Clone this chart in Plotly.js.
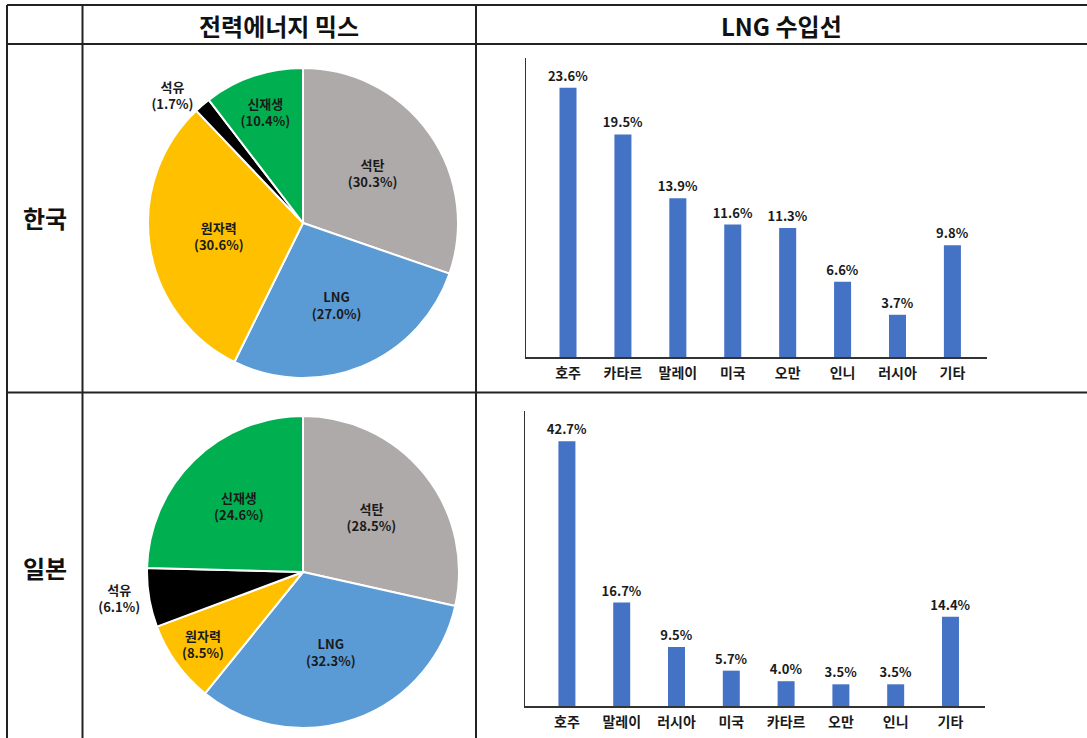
<!DOCTYPE html>
<html>
<head>
<meta charset="utf-8">
<script src="https://cdn.plot.ly/plotly-3.0.1.min.js"></script>
<style>html,body{margin:0;padding:0;background:#fff;}#chart{width:1087px;height:738px;}</style>
</head>
<body>
<div id="chart"></div>
<script>
// ---- data ----
const energyLabels = ["석탄", "LNG", "원자력", "석유", "신재생"];
const koreaMix = [30.3, 27.0, 30.6, 1.7, 10.4];
const japanMix = [28.5, 32.3, 8.5, 6.1, 24.6];
const mixColors = ["#AEAAAA", "#5B9BD5", "#FFC000", "#000000", "#00B050"];

const koreaLngSources = ["호주", "카타르", "말레이", "미국", "오만", "인니", "러시아", "기타"];
const koreaLngShare = [23.6, 19.5, 13.9, 11.6, 11.3, 6.6, 3.7, 9.8];
const japanLngSources = ["호주", "말레이", "러시아", "미국", "카타르", "오만", "인니", "기타"];
const japanLngShare = [42.7, 16.7, 9.5, 5.7, 4.0, 3.5, 3.5, 14.4];

const headerTexts = ["전력에너지 믹스", "LNG 수입선"];
const rowTexts = ["한국", "일본"];

// ---- layout helpers ----
const W = 1087, H = 738;
const px = x => x / W;
const py = y => 1 - y / H;
const FONT = "Noto Sans CJK KR, Noto Sans, sans-serif";

function pieTrace(values, dom, outsideIdx) {
  return {
    type: "pie",
    labels: energyLabels,
    values: values,
    sort: false,
    direction: "clockwise",
    rotation: 0,
    marker: {colors: mixColors, line: {color: "#ffffff", width: 2}},
    texttemplate: "%{label}<br>(%{value:.1f}%)",
    textposition: energyLabels.map((_, i) => i === outsideIdx ? "outside" : "inside"),
    insidetextorientation: "horizontal",
    textfont: {family: FONT, size: 13, color: "#1a1a1a", weight: "bold"},
    hoverinfo: "label+percent",
    showlegend: false,
    domain: dom
  };
}

function barTrace(cats, vals, xa, ya) {
  return {
    type: "bar", x: cats, y: vals, xaxis: xa, yaxis: ya,
    marker: {color: "#4472C4"}, width: 0.31,
    texttemplate: "%{y:.1f}%", textposition: "outside", cliponaxis: false,
    constraintext: "none",
    textfont: {family: FONT, size: 13, color: "#1a1a1a", weight: "bold"},
    showlegend: false
  };
}

const traces = [
  pieTrace(koreaMix, {x: [px(148), px(458)], y: [py(378), py(68)]}, 3),
  pieTrace(japanMix, {x: [px(147), px(459)], y: [py(728), py(416)]}, 3),
  barTrace(koreaLngSources, koreaLngShare, "x", "y"),
  barTrace(japanLngSources, japanLngShare, "x2", "y2")
];

function xAxis(dom, anchor) {
  return {
    domain: dom, anchor: anchor, range: [-0.765, 7.63], fixedrange: true,
    showline: true, linecolor: "#333", linewidth: 1.5, ticks: "", showgrid: false, zeroline: false,
    tickfont: {family: FONT, size: 14, color: "#1a1a1a", weight: "bold"}, ticklabelstandoff: 3
  };
}
function yAxis(dom, anchor, top) {
  return {
    domain: dom, anchor: anchor, range: [0, top], fixedrange: true,
    showline: true, linecolor: "#333", linewidth: 1.5, ticks: "", showgrid: false, zeroline: false,
    showticklabels: false
  };
}

const lineStyle = {color: "#222", width: 2};
const shapes = [
  {type: "line", xref: "paper", yref: "paper", x0: px(7), x1: 1, y0: py(5), y1: py(5), line: lineStyle},
  {type: "line", xref: "paper", yref: "paper", x0: px(7), x1: 1, y0: py(44), y1: py(44), line: lineStyle},
  {type: "line", xref: "paper", yref: "paper", x0: px(7), x1: 1, y0: py(392.5), y1: py(392.5), line: lineStyle},
  {type: "line", xref: "paper", yref: "paper", x0: px(7), x1: px(7), y0: py(5), y1: 0, line: lineStyle},
  {type: "line", xref: "paper", yref: "paper", x0: px(82.5), x1: px(82.5), y0: py(5), y1: 0, line: lineStyle},
  {type: "line", xref: "paper", yref: "paper", x0: px(476), x1: px(476), y0: py(5), y1: 0, line: lineStyle}
];

const hdrFont = {family: FONT, size: 24, color: "#111", weight: "bold"};
const annotations = [
  {text: headerTexts[0], x: px(279), y: py(25), xref: "paper", yref: "paper", showarrow: false, font: hdrFont, xanchor: "center", yanchor: "middle"},
  {text: headerTexts[1], x: px(781), y: py(25), xref: "paper", yref: "paper", showarrow: false, font: hdrFont, xanchor: "center", yanchor: "middle"},
  {text: rowTexts[0], x: px(45), y: py(218), xref: "paper", yref: "paper", showarrow: false, font: hdrFont, xanchor: "center", yanchor: "middle"},
  {text: rowTexts[1], x: px(45), y: py(567), xref: "paper", yref: "paper", showarrow: false, font: hdrFont, xanchor: "center", yanchor: "middle"}
];

const layout = {
  width: W, height: H,
  margin: {l: 0, r: 0, t: 0, b: 0},
  paper_bgcolor: "#ffffff", plot_bgcolor: "rgba(0,0,0,0)",
  font: {family: FONT},
  showlegend: false,
  xaxis: xAxis([px(526), px(987)], "y"),
  yaxis: yAxis([py(357), py(58)], "x", 26.2),
  xaxis2: xAxis([px(525), px(985)], "y2"),
  yaxis2: yAxis([py(706), py(411)], "x2", 47.6),
  shapes: shapes,
  annotations: annotations
};

Plotly.newPlot("chart", traces, layout, {displayModeBar: false, staticPlot: true});
</script>
</body>
</html>
